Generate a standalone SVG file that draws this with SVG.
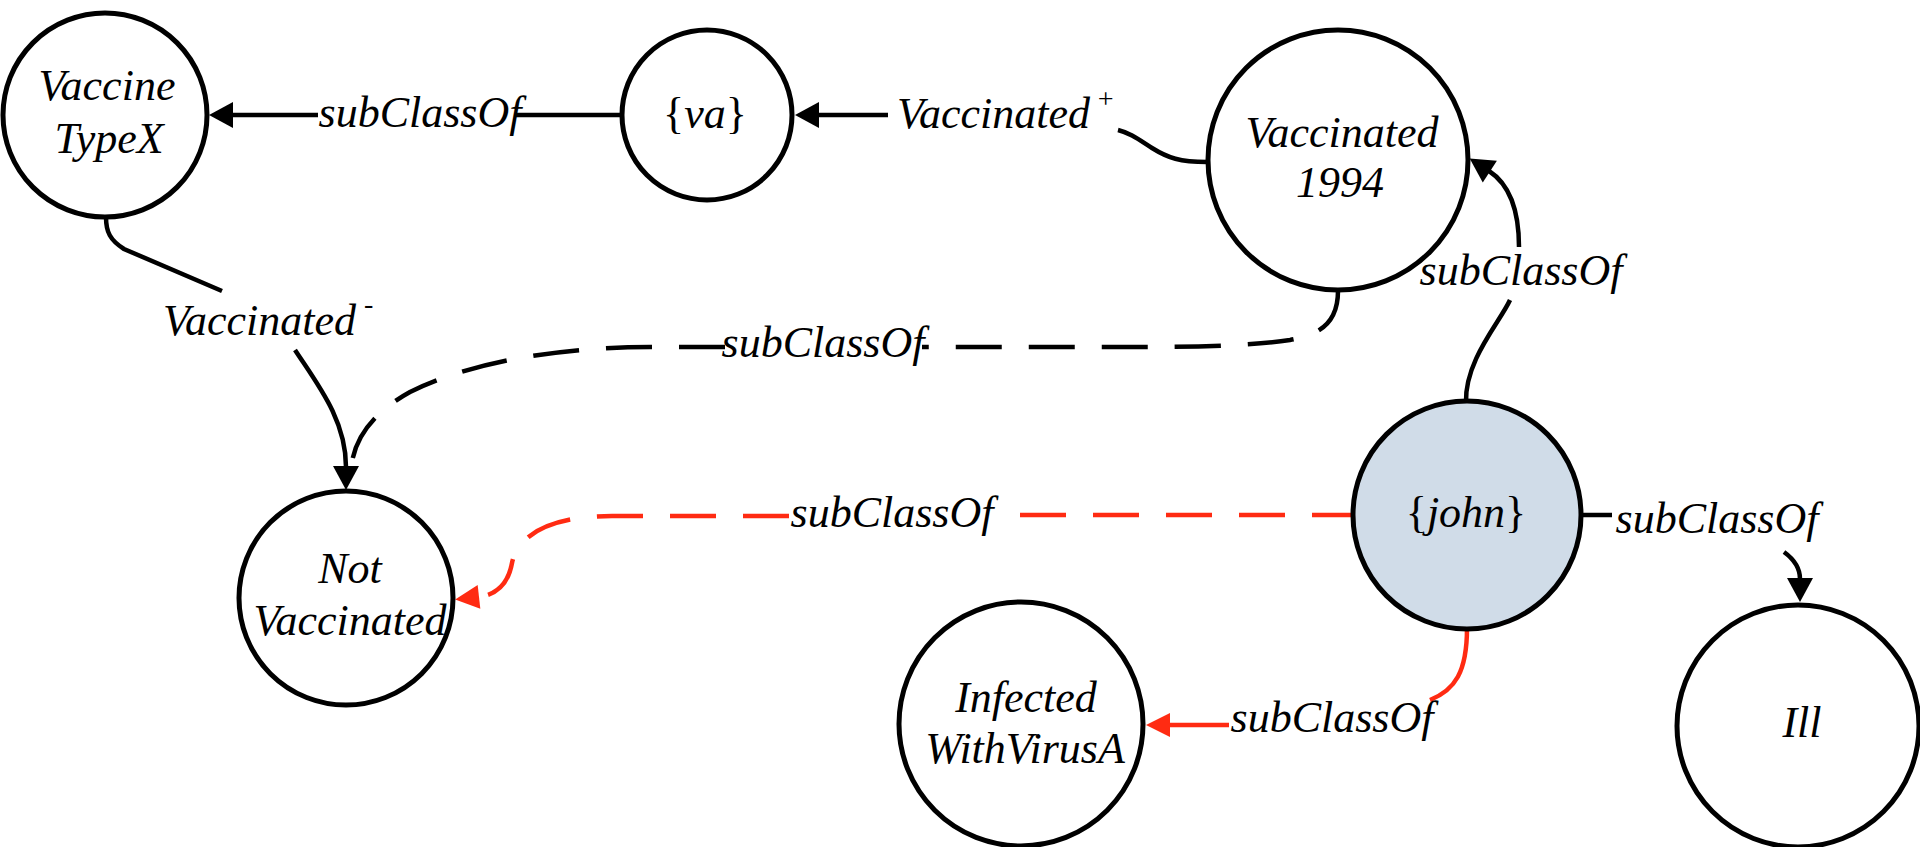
<svg xmlns="http://www.w3.org/2000/svg" width="1920" height="847" viewBox="0 0 1920 847">
<style>
.node{fill:#ffffff;stroke:#000000;stroke-width:5}
.focus{fill:#d0dce8}
.t{font-family:"Liberation Serif","Times New Roman",serif;font-style:italic;font-size:44px;fill:#000000}
.m{text-anchor:middle}
.br{font-style:normal}
.e{fill:none;stroke:#000000;stroke-width:4.5}
.red{stroke:#ff2b12}
.dash{stroke-dasharray:46 27}
</style>
<defs>
<marker id="ah" markerUnits="userSpaceOnUse" markerWidth="26" markerHeight="28" refX="1" refY="13" orient="auto" overflow="visible">
<path d="M0,0 L24,13 L0,26 z" fill="#000000"/>
</marker>
<marker id="ahr" markerUnits="userSpaceOnUse" markerWidth="26" markerHeight="28" refX="1" refY="12" orient="auto" overflow="visible">
<path d="M0,0 L24,12 L0,24 z" fill="#ff2b12"/>
</marker>
</defs>
<rect width="1920" height="847" fill="#ffffff"/>
<g id="connectors">
<g id="e-va-vtx">
<path class="e" d="M622,115 H516"/>
<path class="e" d="M318,115 H232" marker-end="url(#ah)"/>
<text class="t m" x="420" y="127">subClassOf</text>
</g>
<g id="e-v1994-va">
<path class="e" d="M1207,162 C1180,162 1168,158 1152,148 C1138,139 1130,133 1118,130"/>
<path class="e" d="M888,115 H818" marker-end="url(#ah)"/>
<text class="t" x="897" y="128">Vaccinated<tspan dx="6" dy="-20" font-size="28">+</tspan></text>
</g>
<g id="e-vtx-nv">
<path class="e" d="M106,217 C106,232 110,240 124,249 L222,291"/>
<path class="e" d="M295,350 C318,385 346,420 346,467" marker-end="url(#ah)"/>
<text class="t" x="163" y="335">Vaccinated<tspan dx="8" dy="-22" font-size="28">-</tspan></text>
</g>
<g id="e-v1994-nv">
<path class="e dash" d="M1338,291 C1338,322 1322,334 1290,340 C1258,345 1200,347 1150,347 L922,347"/>
<path class="e dash" d="M725,347 L650,347 C560,347 470,362 410,392 C372,413 356,438 352,462"/>
<text class="t m" x="823" y="357">subClassOf</text>
</g>
<g id="e-john-v1994">
<path class="e" d="M1466,402 C1465,360 1500,322 1510,300"/>
<path class="e" d="M1519,247 C1519,205 1506,182 1489,171" marker-end="url(#ah)"/>
<text class="t m" x="1521" y="285">subClassOf</text>
</g>
<g id="e-john-nv">
<path class="e red dash" stroke-dashoffset="6" d="M1352,515 H995"/>
<path class="e red dash" d="M789,516 L612,516 C545,516 517,538 512,563 C508,585 496,595 478,597" marker-end="url(#ahr)"/>
<text class="t m" x="892" y="527">subClassOf</text>
</g>
<g id="e-john-infected">
<path class="e red" d="M1467,628 C1467,672 1455,690 1430,700"/>
<path class="e red" d="M1229,725 H1169" marker-end="url(#ahr)"/>
<text class="t m" x="1332" y="732">subClassOf</text>
</g>
<g id="e-john-ill">
<path class="e" d="M1581,515 H1612"/>
<path class="e" d="M1784,552 C1795,560 1800,568 1800,579" marker-end="url(#ah)"/>
<text class="t m" x="1717" y="533">subClassOf</text>
</g>
</g>
<g id="node-vaccinetypex">
<circle class="node" cx="105" cy="115" r="102"/>
<text class="t m" x="107" y="100">Vaccine</text>
<text class="t m" x="109" y="153">TypeX</text>
</g>
<g id="node-va">
<circle class="node" cx="707" cy="115" r="85"/>
<text class="t m" x="705" y="128"><tspan class="br">{</tspan>va<tspan class="br">}</tspan></text>
</g>
<g id="node-vaccinated1994">
<circle class="node" cx="1338" cy="160" r="130"/>
<text class="t m" x="1342" y="147">Vaccinated</text>
<text class="t m" x="1340" y="197">1994</text>
</g>
<g id="node-john">
<circle class="node focus" cx="1467" cy="515" r="114"/>
<text class="t m" x="1466" y="527"><tspan class="br">{</tspan>john<tspan class="br">}</tspan></text>
</g>
<g id="node-notvaccinated">
<circle class="node" cx="346" cy="598" r="107"/>
<text class="t m" x="350" y="583">Not</text>
<text class="t m" x="350" y="635">Vaccinated</text>
</g>
<g id="node-infected">
<circle class="node" cx="1021" cy="724" r="122"/>
<text class="t m" x="1026" y="712">Infected</text>
<text class="t m" x="1025" y="763">WithVirusA</text>
</g>
<g id="node-ill">
<circle class="node" cx="1798" cy="726" r="121"/>
<text class="t m" x="1802" y="737">Ill</text>
</g>
</svg>
